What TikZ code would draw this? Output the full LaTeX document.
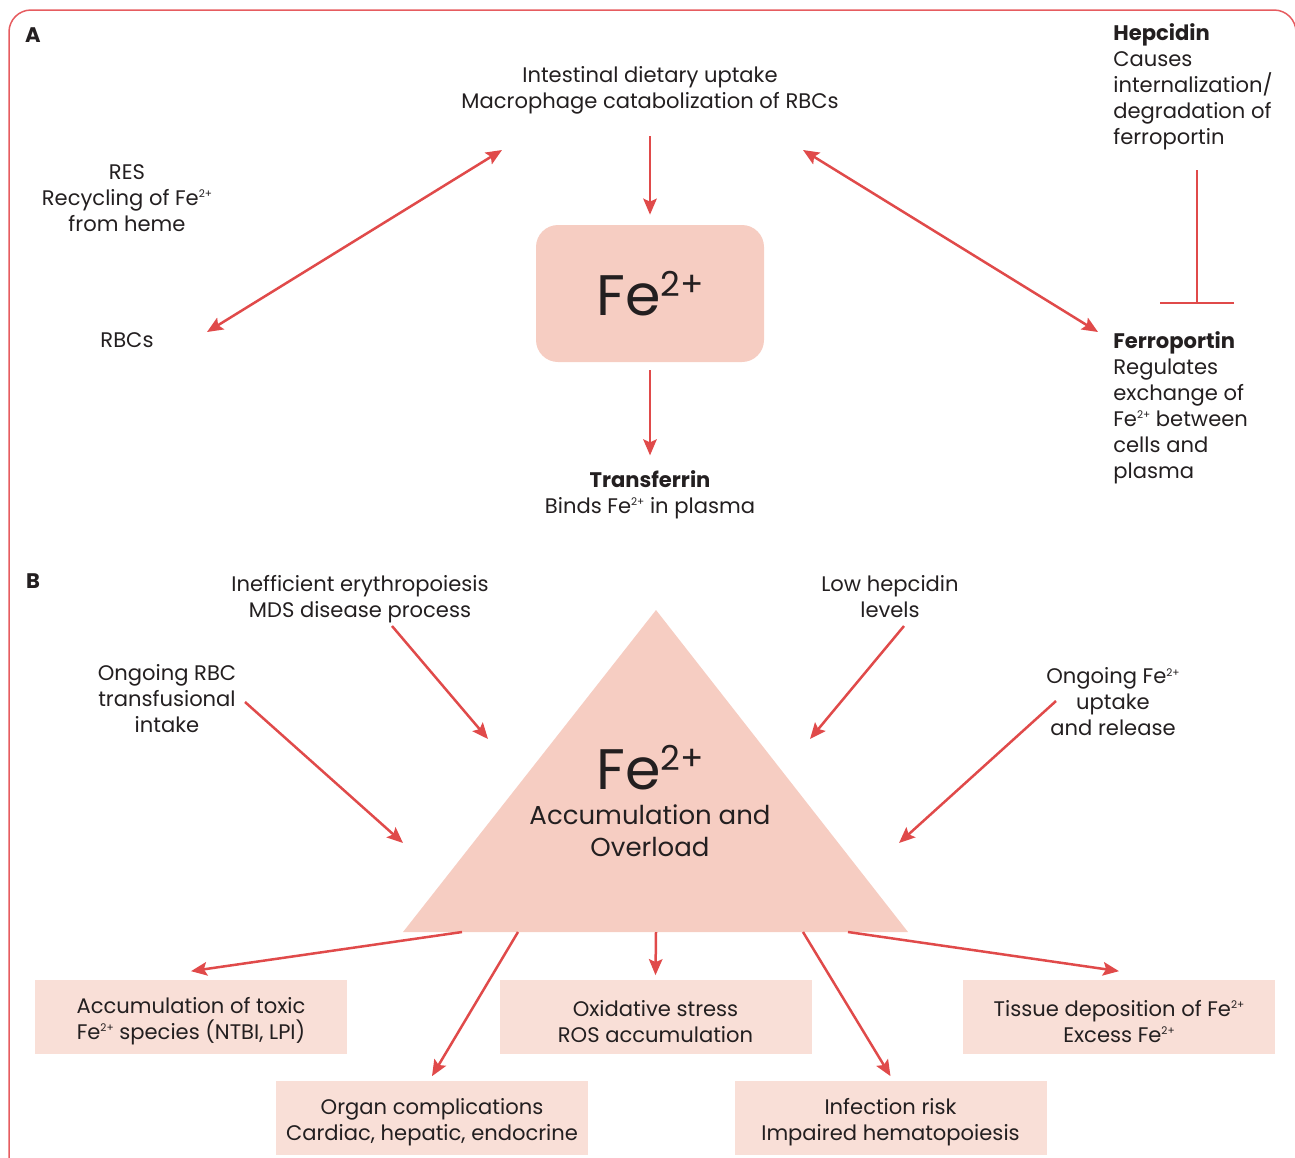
\documentclass[tikz,border=0pt]{standalone}
\usepackage{fontspec}
\setmainfont{Poppins}
\usetikzlibrary{arrows.meta,positioning}

\definecolor{ironred}{HTML}{E04A4A}
\definecolor{framered}{HTML}{E65C60}
\definecolor{corefill}{HTML}{F6CDC2}
\definecolor{outfill}{HTML}{F9DFD7}
\definecolor{inktext}{HTML}{231F20}

\newcommand{\feion}{Fe\raisebox{4.5pt}{\fontsize{6}{6}\selectfont 2+}}
\newcommand{\bigfe}{Fe\raisebox{10.8pt}{\fontsize{19.5}{19.5}\selectfont 2+}}
\newcommand{\lift}{\rule{0pt}{5.1mm}}

\begin{document}
\begin{tikzpicture}[
    x=0.2mm, y=-0.2mm,
    every node/.style={text=inktext, font=\fontsize{12}{14.8}\selectfont},
    txt/.style={align=center, inner sep=0pt},
    side/.style={align=left, inner sep=0pt, anchor=west},
    tag/.style={inner sep=0pt, font=\bfseries\fontsize{12}{14}\selectfont},
    core/.style={fill=corefill, rounded corners=4.4mm, minimum width=45.6mm, minimum height=27.4mm, font=\fontsize{32.5}{38}\selectfont},
    outbox/.style={fill=outfill, align=center, minimum width=62.4mm, minimum height=14.8mm, inner sep=0pt},
    link/.style={-{Stealth[length=3.2mm, width=2.7mm, inset=0.6mm]}, draw=ironred, line width=0.5mm},
    twoway/.style={{Stealth[length=3.2mm, width=2.7mm, inset=0.6mm]}-{Stealth[length=3.2mm, width=2.7mm, inset=0.6mm]}, draw=ironred, line width=0.5mm},
    block/.style={-{Bar[width=14.8mm]}, draw=ironred, line width=0.5mm}
]
\useasboundingbox (0,0) rectangle (1295,1157);
\draw[framered, line width=0.3mm, rounded corners=4.4mm] (9,1200) -- (9,10) -- (1296,10) -- (1296,1200);

% panel A
\node[tag] (tagA) at (33,35) {A};
\node[txt] (intake) at (650,90) {Intestinal dietary uptake\\Macrophage catabolization of RBCs};
\node[core] (fe) at (650,293.5) {\bigfe};
\node[txt, below=21.6mm of fe] (transf) {\textbf{Transferrin}\\Binds \feion{} in plasma};
\node[txt] (res) at (127,198) {RES\\Recycling of \feion\\from heme};
\node[txt] (rbc) at (127,340) {RBCs};
\node[side] (hep) at (1113,87) {\textbf{Hepcidin}\\Causes\\internalization/\\degradation of\\ferroportin};
\node[side] (ferro) at (1113,408) {\textbf{Ferroportin}\\Regulates\\exchange of\\\feion{} between\\cells and\\plasma};
\coordinate (resUp) at (502,150);
\coordinate (resDown) at (207,332);
\coordinate (ferroUp) at (803,150);
\coordinate (ferroDown) at (1098,332);
\coordinate (hepFoot) at (1197,170);
\coordinate (hepBar) at (1197,304);

\draw[link, shorten <=4.4mm, shorten >=2mm] (intake) -- (fe);
\draw[link, shorten <=1.6mm, shorten >=3mm] (fe) -- (transf);
\draw[twoway] (resUp) -- (resDown);
\draw[twoway] (ferroUp) -- (ferroDown);
\draw[block] (hepFoot) -- (hepBar);

% panel B
\node[tag] (tagB) at (33,581) {B};
\coordinate (apex) at (656,610);
\coordinate (baseL) at (403,932);
\coordinate (baseR) at (908,932);
\fill[corefill] (apex) -- (baseR) -- (baseL) -- cycle;
\node[txt, font=\fontsize{32.5}{38}\selectfont] (loadFe) at (650,768) {\bigfe};
\node[txt, font=\fontsize{14.8}{18.2}\selectfont] (loadTxt) at (650,831) {Accumulation and\\Overload};

\node[txt] (ineff) at (360,599) {Inefficient erythropoiesis\\MDS disease process};
\node[txt] (lowhep) at (890,597) {Low hepcidin\\levels};
\node[txt] (transfuse) at (167,699) {Ongoing RBC\\transfusional\\intake};
\node[txt] (uptake) at (1113,702) {Ongoing \feion\\uptake\\and release};
\coordinate (ineffTail) at (392,626);
\coordinate (ineffTip) at (488,739);
\coordinate (lowhepTail) at (904,626);
\coordinate (lowhepTip) at (810,739);
\coordinate (transfuseTail) at (245,702);
\coordinate (transfuseTip) at (403,843);
\coordinate (uptakeTail) at (1056,701);
\coordinate (uptakeTip) at (899,843);
\draw[link] (ineffTail) -- (ineffTip);
\draw[link] (lowhepTail) -- (lowhepTip);
\draw[link] (transfuseTail) -- (transfuseTip);
\draw[link] (uptakeTail) -- (uptakeTip);

\node[outbox] (toxic) at (191,1016.5) {\lift Accumulation of toxic\\\feion{} species (NTBI, LPI)};
\node[outbox] (organ) at (432,1117.5) {\lift Organ complications\\Cardiac, hepatic, endocrine};
\node[outbox] (oxid) at (655.5,1016.5) {\lift Oxidative stress\\ROS accumulation};
\node[outbox] (infect) at (890.5,1117.5) {\lift Infection risk\\Impaired hematopoiesis};
\node[outbox] (tissue) at (1119,1016.5) {\lift Tissue deposition of \feion\\Excess \feion};
\coordinate (out1) at (462,932);
\coordinate (out2) at (518,932);
\coordinate (out3) at (656,932);
\coordinate (out4) at (803,932);
\coordinate (out5) at (848,932);
\draw[link] (out1) -- ([yshift=1.6mm]toxic.north);
\draw[link] (out2) -- ([yshift=0.8mm]organ.north);
\draw[link] (out3) -- ([yshift=0.8mm]oxid.north);
\draw[link] (out4) -- ([yshift=0.8mm]infect.north);
\draw[link] (out5) -- ([yshift=1.6mm]tissue.north);
\end{tikzpicture}
\end{document}
